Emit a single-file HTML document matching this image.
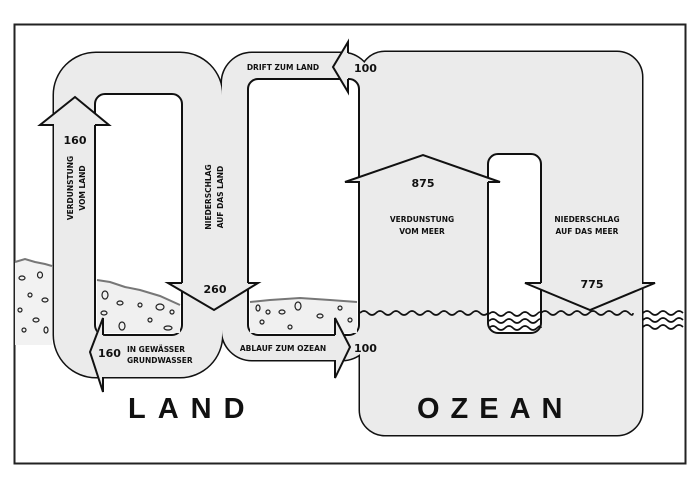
<!DOCTYPE html>
<html><head><meta charset="utf-8"><style>
html,body{margin:0;padding:0;background:#fff}
svg{display:block}
text{font-family:"DejaVu Sans","Liberation Sans",sans-serif;font-weight:bold;fill:#111}
</style></head><body>
<svg width="700" height="495" viewBox="0 0 700 495" xmlns="http://www.w3.org/2000/svg">
<rect x="0" y="0" width="700" height="495" fill="#fff"/>
<rect x="14.5" y="24.5" width="671" height="439" fill="none" stroke="#222" stroke-width="2"/>

<path d="M15,262 L25,259 L35,262 L45,264 L52,266 L52,345 L15,345 Z" fill="#f2f2f2" stroke="none"/>
<path d="M15,262 L25,259 L35,262 L45,264 L52,266" fill="none" stroke="#777" stroke-width="2"/>

<g fill="none" stroke="#111" stroke-width="3">
<rect x="54" y="53" width="168" height="324" rx="42"/>
<rect x="222" y="53" width="150" height="307" rx="30"/>
<rect x="360" y="52" width="282" height="383" rx="25"/>
</g>
<g fill="#ebebeb">
<rect x="54" y="53" width="168" height="324" rx="42"/>
<rect x="222" y="53" width="150" height="307" rx="30"/>
<rect x="360" y="52" width="282" height="383" rx="25"/>
</g>

<g fill="#fff" stroke="#111" stroke-width="2">
<rect x="95" y="94" width="87" height="241" rx="10"/>
<rect x="248" y="79" width="111" height="256" rx="10"/>
<rect x="488" y="154" width="53" height="179" rx="10"/>
</g>

<path d="M97,280 L110,282 L125,287 L140,290 L160,296 L180,305 L180,333 L97,333 Z" fill="#f0f0f0"/>
<path d="M97,280 L110,282 L125,287 L140,290 L160,296 L180,305" fill="none" stroke="#777" stroke-width="2"/>
<path d="M250,302 L270,300 L300,298 L330,300 L357,302 L357,333 L250,333 Z" fill="#f0f0f0"/>
<path d="M250,302 L270,300 L300,298 L330,300 L357,302" fill="none" stroke="#777" stroke-width="2"/>
<g fill="none" stroke="#222" stroke-width="1.2">
<ellipse cx="22" cy="278" rx="3" ry="2"/><ellipse cx="40" cy="275" rx="2.5" ry="3"/><ellipse cx="30" cy="295" rx="2" ry="2"/><ellipse cx="45" cy="300" rx="3" ry="2"/><ellipse cx="20" cy="310" rx="2" ry="2"/><ellipse cx="36" cy="320" rx="3" ry="2"/><ellipse cx="24" cy="330" rx="2" ry="2"/><ellipse cx="46" cy="330" rx="2" ry="3"/>
<ellipse cx="105" cy="295" rx="3" ry="4"/><ellipse cx="120" cy="303" rx="3" ry="2"/><ellipse cx="104" cy="313" rx="3" ry="2"/><ellipse cx="140" cy="305" rx="2" ry="2"/><ellipse cx="160" cy="307" rx="4" ry="3"/><ellipse cx="122" cy="326" rx="3" ry="4"/><ellipse cx="150" cy="320" rx="2" ry="2"/><ellipse cx="168" cy="328" rx="4" ry="2"/><ellipse cx="172" cy="312" rx="2" ry="2"/>
<ellipse cx="258" cy="308" rx="2" ry="3"/><ellipse cx="268" cy="312" rx="2" ry="2"/><ellipse cx="282" cy="312" rx="3" ry="2"/><ellipse cx="298" cy="306" rx="3" ry="4"/><ellipse cx="262" cy="322" rx="2" ry="2"/><ellipse cx="290" cy="327" rx="2" ry="2"/><ellipse cx="320" cy="316" rx="3" ry="2"/><ellipse cx="340" cy="308" rx="2" ry="2"/><ellipse cx="350" cy="320" rx="2" ry="2"/>
</g>

<g stroke="#111" stroke-width="2" stroke-linejoin="miter">
<polygon points="40,125 75,97 109,125" fill="#ebebeb" stroke="none"/>
<path d="M54,125 L40,125 L75,97 L109,125 L95,125" fill="none"/>
<polygon points="168,283 214,310 258,283" fill="#ebebeb" stroke="none"/>
<path d="M182,283 L168,283 L214,310 L258,283 L248,283" fill="none"/>
<polygon points="348,42 333,67 348,92" fill="#ebebeb" stroke="none"/>
<path d="M348,53 L348,42 L333,67 L348,92 L348,79" fill="none"/>
<polygon points="335,318 350,347 335,378" fill="#ebebeb" stroke="none"/>
<path d="M335,335 L335,318 L350,347 L335,378 L335,360" fill="none"/>
<polygon points="103,318 90,352 103,392" fill="#ebebeb" stroke="none"/>
<path d="M103,335 L103,318 L90,352 L103,392 L103,377" fill="none"/>
<polygon points="345,182 423,155 500,182" fill="#ebebeb" stroke="none"/>
<path d="M360,182 L345,182 L423,155 L500,182 L488,182" fill="none"/>
<polygon points="525,283 590,310 655,283" fill="#ebebeb" stroke="none"/>
<path d="M541,283 L525,283 L590,310 L655,283 L642,283" fill="none"/>
</g>

<g fill="none" stroke="#111" stroke-width="1.6">
<path d="M360,313 q4,-4 8,0 t8,0 t8,0 t8,0 t8,0 t8,0 t8,0 t8,0 t8,0 t8,0 t8,0 t8,0 t8,0 t8,0 t8,0 t8,0"/>
<path d="M541,313 q4,-4 8,0 t8,0 t8,0 t8,0 t8,0 t8,0 t8,0 t8,0 t8,0 t8,0 t8,0 t4,0"/>
<path d="M489,314 q4,-4 8,0 t8,0 t8,0 t8,0 t8,0 t8,0 t4,0"/>
<path d="M489,321 q4,-4 8,0 t8,0 t8,0 t8,0 t8,0 t8,0 t4,0"/>
<path d="M489,328 q4,-4 8,0 t8,0 t8,0 t8,0 t8,0 t8,0 t4,0"/>
<path d="M643,313 q4,-4 8,0 t8,0 t8,0 t8,0 t8,0"/>
<path d="M643,320 q4,-4 8,0 t8,0 t8,0 t8,0 t8,0"/>
<path d="M643,327 q4,-4 8,0 t8,0 t8,0 t8,0 t8,0"/>
</g>

<g font-size="11" text-anchor="middle">
<text x="75" y="144">160</text>
<text x="215" y="293">260</text>
<text x="354" y="72" text-anchor="start">100</text>
<text x="354" y="352" text-anchor="start">100</text>
<text x="98" y="357" text-anchor="start">160</text>
<text x="423" y="187">875</text>
<text x="592" y="288">775</text>
</g>
<g font-size="7.5" text-anchor="middle">
<text x="283" y="70">DRIFT ZUM LAND</text>
<text x="283" y="351">ABLAUF ZUM OZEAN</text>
<text x="127" y="352" text-anchor="start">IN GEWÄSSER</text>
<text x="127" y="363" text-anchor="start">GRUNDWASSER</text>
<text x="422" y="222">VERDUNSTUNG</text>
<text x="422" y="234">VOM MEER</text>
<text x="587" y="222">NIEDERSCHLAG</text>
<text x="587" y="234">AUF DAS MEER</text>
<text transform="translate(73,188) rotate(-90)">VERDUNSTUNG</text>
<text transform="translate(85,188) rotate(-90)">VOM LAND</text>
<text transform="translate(211,197) rotate(-90)">NIEDERSCHLAG</text>
<text transform="translate(223,197) rotate(-90)">AUF DAS LAND</text>
</g>
<text x="128" y="418" font-size="29" letter-spacing="12" style="font-family:'Liberation Sans',sans-serif">LAND</text>
<text x="417" y="418" font-size="29" letter-spacing="11" style="font-family:'Liberation Sans',sans-serif">OZEAN</text>
</svg>
</body></html>
